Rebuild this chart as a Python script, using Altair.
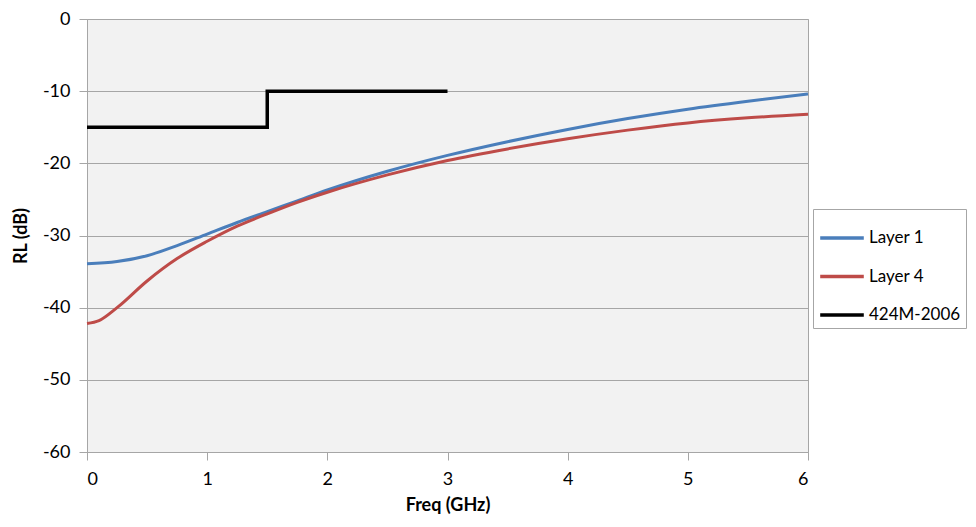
import altair as alt
import pandas as pd

# Layer 1 readings
l1_x = [0, 0.25, 0.5, 0.75, 1.0, 1.25, 1.5, 1.75, 2.0, 2.5, 3.0, 3.5, 4.0, 4.5, 5.0, 5.5, 6.0]
l1_y = [-33.9, -33.6, -32.8, -31.4, -29.8, -28.2, -26.7, -25.2, -23.7, -21.1, -18.9, -17.0, -15.3, -13.8, -12.5, -11.4, -10.4]
# Layer 4 readings
l4_x = [0, 0.1, 0.25, 0.5, 0.75, 1.0, 1.25, 1.5, 1.75, 2.0, 2.5, 3.0, 3.5, 4.0, 4.5, 5.0, 5.5, 6.0]
l4_y = [-42.2, -41.8, -40.0, -36.3, -33.2, -30.8, -28.7, -27.0, -25.4, -24.0, -21.6, -19.6, -18.0, -16.6, -15.4, -14.4, -13.7, -13.2]
# 424M-2006 mask
m_x = [0, 1.5, 1.5, 3.0]
m_y = [-15, -15, -10, -10]

series = ["Layer 1", "Layer 4", "424M-2006"]
colors = ["#4a7ebb", "#be4b48", "#000000"]

curves = pd.DataFrame(
    {"x": l1_x + l4_x, "y": l1_y + l4_y,
     "s": ["Layer 1"] * len(l1_x) + ["Layer 4"] * len(l4_x)}
)
curves["i"] = range(len(curves))
mask = pd.DataFrame({"x": m_x, "y": m_y, "s": ["424M-2006"] * len(m_x), "i": range(len(m_x))})

FONT = "Lato"

xenc = alt.X("x:Q", scale=alt.Scale(domain=[0, 6], nice=False),
             axis=alt.Axis(title="Freq (GHz)", values=[0, 1, 2, 3, 4, 5, 6], grid=False,
                           tickSize=8, labelPadding=10, titlePadding=8,
                           labelExpr="'' + datum.value"))
yenc = alt.Y("y:Q", scale=alt.Scale(domain=[-60, 0], nice=False),
             axis=alt.Axis(title="RL (dB)", values=[-60, -50, -40, -30, -20, -10, 0], grid=True,
                           tickSize=8, labelPadding=9, titlePadding=12,
                           labelExpr="'' + datum.value"))
color = alt.Color("s:N", scale=alt.Scale(domain=series, range=colors),
                  legend=alt.Legend(title=None, orient="none", legendX=726, legendY=190,
                                    symbolType="stroke", symbolSize=1900, symbolStrokeWidth=3.5,
                                    labelFontSize=17, labelFont=FONT, labelColor="#000",
                                    rowPadding=6.5, padding=5, labelOffset=3,
                                    strokeColor="#a6a6a6", fillColor="white",
                                    symbolLimit=0))

c1 = alt.Chart(curves).mark_line(strokeWidth=3, interpolate="monotone").encode(
    x=xenc, y=yenc, color=color, order="i:Q")
c2 = alt.Chart(mask).mark_line(strokeWidth=3.5, interpolate="linear").encode(
    x="x:Q", y="y:Q", color=color, order="i:Q")

chart = alt.layer(c1, c2).properties(
    width=721, height=433,
    autosize=alt.AutoSizeParams(type="none"),
    padding={"left": 79, "top": 11, "right": 160, "bottom": 63},
).configure_view(
    fill="#f2f2f2", stroke="#a6a6a6", strokeWidth=1
).configure_axis(
    labelFont=FONT, titleFont=FONT, labelFontSize=18, titleFontSize=18,
    labelColor="#000", titleColor="#000", titleFontWeight="bold",
    domainColor="#a6a6a6", tickColor="#a6a6a6", gridColor="#a6a6a6",
    gridWidth=1, domainWidth=1, tickWidth=1,
)

chart.save("out.html", embed_options={"renderer": "svg", "actions": False})
